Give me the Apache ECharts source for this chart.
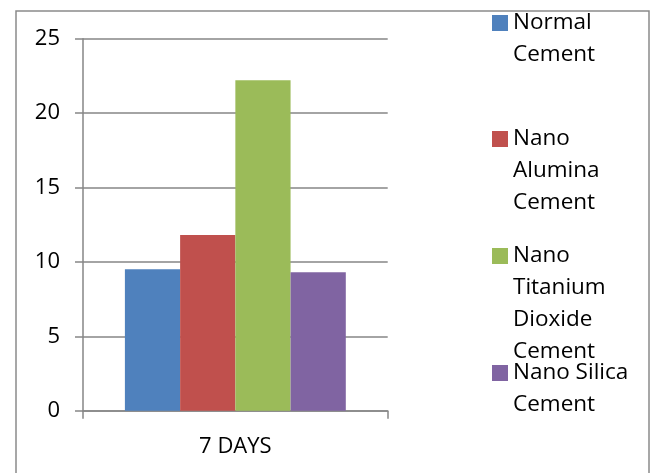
<!DOCTYPE html>
<html>
<head>
<meta charset="utf-8">
<script src="https://cdn.jsdelivr.net/npm/echarts@6/dist/echarts.min.js"></script>
<style>
  html, body { margin: 0; padding: 0; background: #fff; }
  #chart { width: 656px; height: 473px; }
</style>
</head>
<body>
<div id="chart"></div>
<script>
// Compressive strength at 7 days for each cement mix
const categories = ['7 DAYS'];
const seriesNames = [
  'Normal\nCement',
  'Nano\nAlumina\nCement',
  'Nano\nTitanium\nDioxide\nCement',
  'Nano Silica\nCement'
];
const normalCement = [9.5];
const nanoAlumina = [11.8];
const nanoTitanium = [22.2];
const nanoSilica = [9.3];
const yTicks = { min: 0, max: 25, interval: 5 };

const colors = ['#4F81BD', '#C0504D', '#9BBB59', '#8064A2'];
const values = [normalCement, nanoAlumina, nanoTitanium, nanoSilica];
const FONT = '"Open Sans", "Noto Sans", sans-serif';
const AXIS = '#868686';
const LINE_H = 32;

// one legend block per series so each can sit at its own height;
// blank lines are prepended so the first text line lines up with the swatch
const iconCenters = [23, 139, 256, 373];
const legends = seriesNames.map((name, i) => {
  const n = name.split('\n').length;
  return {
    show: true,
    data: [name],
    left: 492,
    top: iconCenters[i] - (2 * n - 1) * LINE_H / 2,
    padding: 0,
    itemWidth: 16,
    itemHeight: 16,
    icon: 'rect',
    selectedMode: false,
    formatter: label => '\n'.repeat(n - 1) + label,
    textStyle: {
      fontFamily: FONT,
      fontSize: 22.5,
      color: '#000',
      lineHeight: LINE_H
    }
  };
});

const chart = echarts.init(document.getElementById('chart'), null, { renderer: 'canvas' });
chart.setOption({
  animation: false,
  backgroundColor: '#fff',
  color: colors,
  graphic: [{
    type: 'rect',
    shape: { x: 16, y: 11, width: 633, height: 520 },
    style: { fill: 'none', stroke: '#8a8a8a', lineWidth: 1.5 },
    silent: true
  }],
  legend: legends,
  grid: { left: 83, top: 38.7, right: 268.3, bottom: 62.3, containLabel: false },
  xAxis: {
    type: 'category',
    data: categories,
    axisLine: { show: true, lineStyle: { color: AXIS, width: 1.5 } },
    axisTick: { show: true, length: 8, alignWithLabel: false, lineStyle: { color: AXIS, width: 1.5 } },
    axisLabel: { fontFamily: FONT, fontSize: 22, color: '#000', margin: 25 },
    splitLine: { show: false }
  },
  yAxis: {
    type: 'value',
    min: yTicks.min,
    max: yTicks.max,
    interval: yTicks.interval,
    axisLine: { show: true, lineStyle: { color: AXIS, width: 1.5 } },
    axisTick: { show: true, length: 8, lineStyle: { color: AXIS, width: 1.5 } },
    axisLabel: { fontFamily: FONT, fontSize: 22, color: '#000', margin: 23 },
    splitLine: { show: true, lineStyle: { color: AXIS, width: 1.5 } }
  },
  series: seriesNames.map((name, i) => ({
    name: name,
    type: 'bar',
    data: values[i],
    barGap: '0%',
    barCategoryGap: '27.5%',
    itemStyle: { color: colors[i] }
  }))
});
</script>
</body>
</html>
